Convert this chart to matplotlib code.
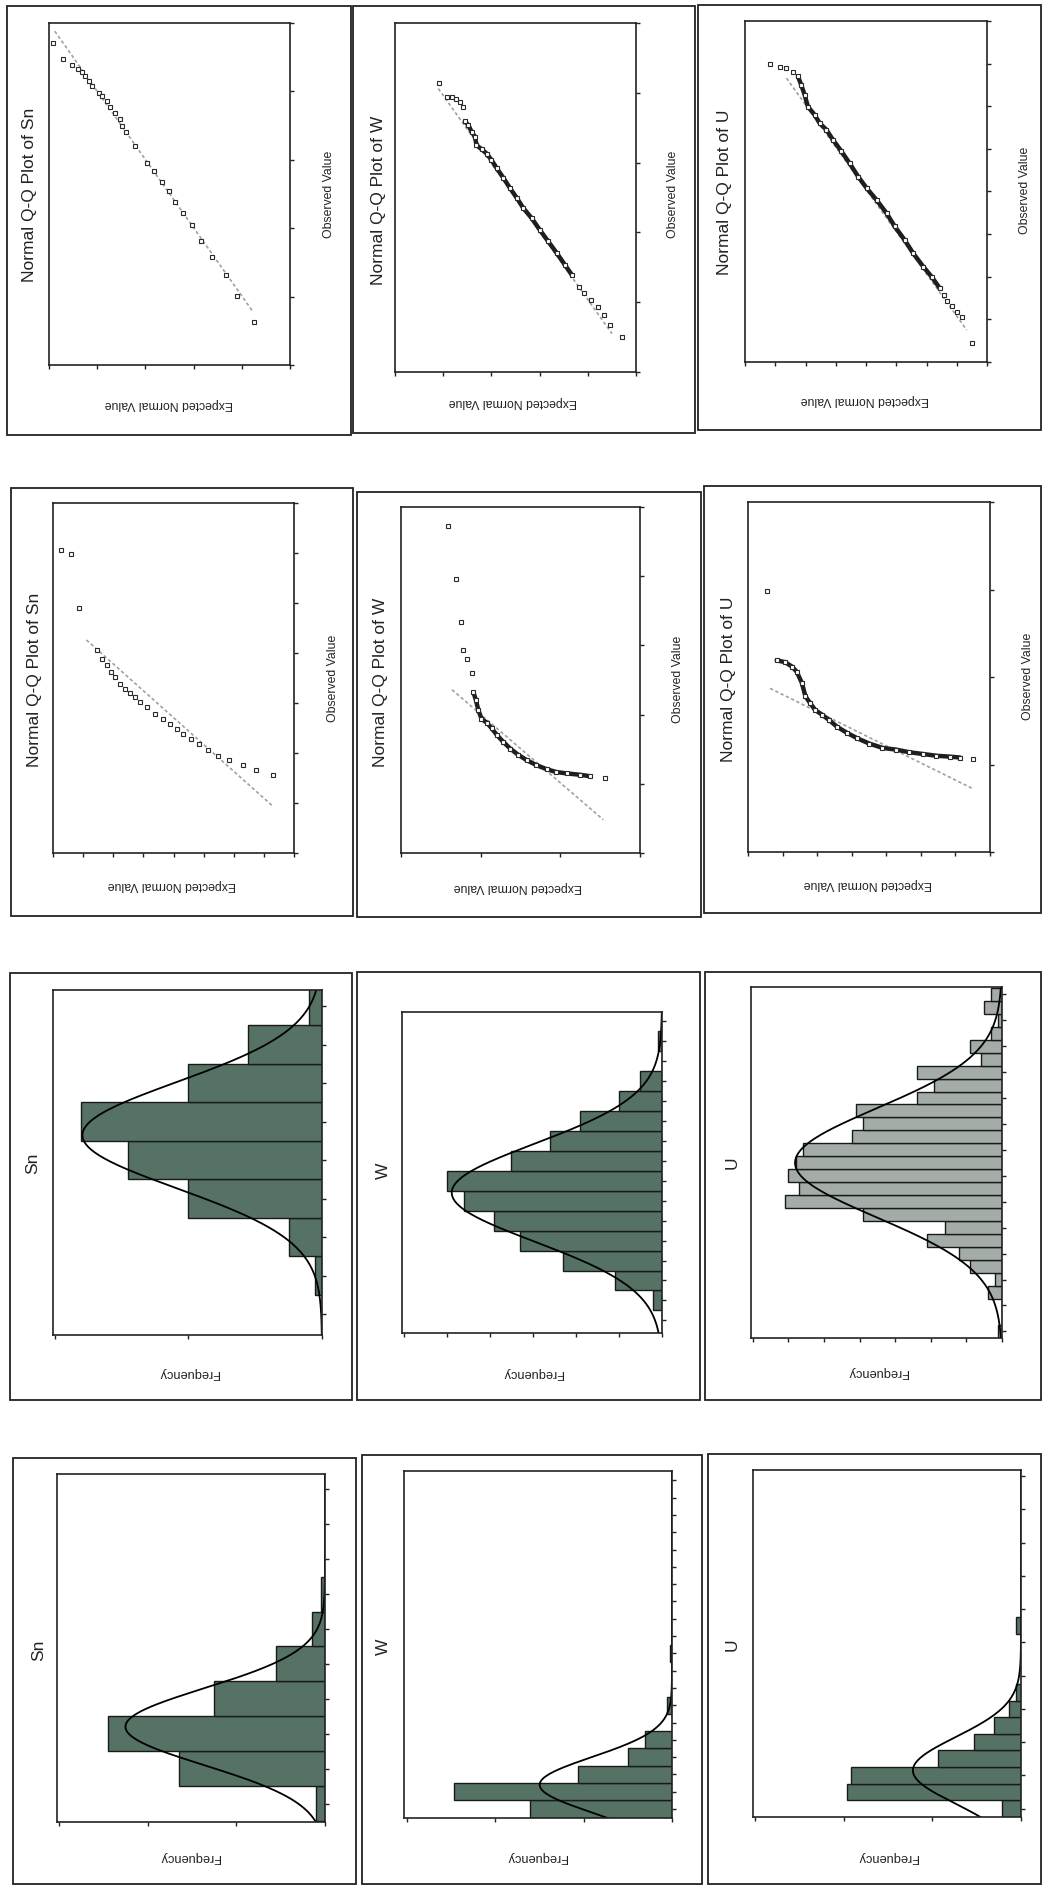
import matplotlib
matplotlib.use('Agg')
import matplotlib.pyplot as plt
from matplotlib.patches import Rectangle
import numpy as np

plt.rcParams['font.family'] = ['Liberation Sans', 'DejaVu Sans']

W_PX, H_PX = 1044, 1887

# ---------------- Q-Q data (tick units: expected from right edge, observed from bottom)
qq_sn_t_exp = [4.91, 4.70, 4.53, 4.39, 4.32, 4.25, 4.18, 4.11, 3.97, 3.90, 3.80, 3.73, 3.63, 3.53, 3.49,
               3.40, 3.22, 2.97, 2.82, 2.66, 2.51, 2.39, 2.23, 2.04, 1.84, 1.61, 1.33, 1.09, 0.75]
qq_sn_t_obs = [4.71, 4.48, 4.38, 4.33, 4.28, 4.22, 4.15, 4.08, 3.98, 3.93, 3.86, 3.77, 3.68, 3.60, 3.50,
               3.40, 3.20, 2.96, 2.83, 2.68, 2.54, 2.39, 2.22, 2.04, 1.82, 1.58, 1.32, 1.01, 0.63]
qq_sn_t_line = ([4.88, 0.77], [4.88, 0.78])

qq_w_t_exp = [4.08, 3.93, 3.82, 3.73, 3.65, 3.58, 3.55, 3.48, 3.41, 3.34, 3.31, 3.20, 3.10, 3.00, 2.89, 2.75,
              2.61, 2.47, 2.34, 2.16, 1.99, 1.82, 1.64, 1.47, 1.33, 1.19, 1.07, 0.94, 0.78, 0.66, 0.54, 0.30]
qq_w_t_obs = [4.14, 3.94, 3.94, 3.91, 3.87, 3.80, 3.59, 3.54, 3.44, 3.37, 3.25, 3.19, 3.13, 3.04, 2.92, 2.78,
              2.63, 2.49, 2.35, 2.20, 2.03, 1.87, 1.70, 1.53, 1.39, 1.22, 1.13, 1.03, 0.93, 0.82, 0.67, 0.50]
qq_w_t_line = ([4.10, 0.50], [4.06, 0.55])

qq_u_t_exp = [7.18, 6.85, 6.63, 6.41, 6.25, 6.14, 6.03, 5.92, 5.70, 5.53, 5.31, 5.09, 4.81, 4.54, 4.26,
              3.98, 3.65, 3.32, 3.05, 2.72, 2.44, 2.11, 1.83, 1.56, 1.42, 1.33, 1.17, 1.00, 0.84, 0.51]
qq_u_t_obs = [7.00, 6.93, 6.89, 6.81, 6.70, 6.50, 6.27, 5.99, 5.80, 5.60, 5.45, 5.21, 4.94, 4.66, 4.35,
              4.08, 3.80, 3.49, 3.18, 2.86, 2.55, 2.24, 2.00, 1.73, 1.57, 1.42, 1.31, 1.18, 1.06, 0.44]
qq_u_t_line = ([6.63, 0.67], [6.66, 0.75])

qq_sn_r_exp = [7.72, 7.39, 7.13, 6.55, 6.39, 6.22, 6.06, 5.95, 5.78, 5.61, 5.45, 5.28, 5.12, 4.89,
               4.62, 4.34, 4.12, 3.90, 3.68, 3.43, 3.15, 2.85, 2.51, 2.15, 1.68, 1.26, 0.69]
qq_sn_r_obs = [6.06, 5.99, 4.91, 4.06, 3.89, 3.76, 3.63, 3.53, 3.39, 3.29, 3.21, 3.13, 3.03, 2.93,
               2.79, 2.69, 2.59, 2.49, 2.39, 2.29, 2.18, 2.06, 1.94, 1.86, 1.76, 1.66, 1.56]
qq_sn_r_line = ([6.89, 0.69], [4.26, 0.93])

qq_w_r_exp = [2.41, 2.31, 2.25, 2.22, 2.17, 2.11, 2.09, 2.06, 2.03, 1.99, 1.92, 1.86, 1.80, 1.72,
              1.63, 1.53, 1.42, 1.30, 1.17, 1.05, 0.92, 0.75, 0.63, 0.44]
qq_w_r_obs = [4.72, 3.96, 3.34, 2.93, 2.81, 2.60, 2.32, 2.21, 2.07, 1.94, 1.88, 1.80, 1.71, 1.61,
              1.51, 1.42, 1.34, 1.27, 1.21, 1.17, 1.15, 1.13, 1.11, 1.09]
qq_w_r_line = ([2.36, 0.46], [2.36, 0.48])

qq_u_r_exp = [6.44, 6.17, 5.93, 5.73, 5.59, 5.44, 5.34, 5.20, 5.05, 4.86, 4.66, 4.42, 4.13, 3.84,
              3.50, 3.11, 2.72, 2.33, 1.94, 1.55, 1.17, 0.87, 0.49]
qq_u_r_obs = [2.98, 2.19, 2.17, 2.12, 2.06, 1.93, 1.78, 1.70, 1.62, 1.57, 1.51, 1.43, 1.36, 1.30,
              1.24, 1.19, 1.17, 1.14, 1.12, 1.10, 1.09, 1.08, 1.06]
qq_u_r_line = ([6.36, 0.53], [1.87, 0.73])

# ---------------- histogram data (bin centres in tick units, counts)
sn_t_bins = np.arange(1, 10)
sn_t_counts = [0, 1, 5, 20, 29, 36, 20, 11, 2]
w_t_bins = np.arange(1, 17)
w_t_counts = [0, 2, 11, 23, 33, 39, 46, 50, 35, 26, 19, 10, 5, 0, 1, 0]
u_t_bins = np.arange(1, 28)
u_t_counts = [1, 0, 0, 4, 2, 9, 12, 21, 16, 39, 61, 57, 60, 58, 56, 42, 39, 41, 24, 19, 24, 6, 9, 3, 1, 5, 3]
sn_r_bins = np.arange(1, 11)
sn_r_counts = [2, 33, 49, 25, 11, 3, 1, 0, 0, 0]
w_r_bins = np.arange(1, 21)
w_r_counts = [80, 123, 53, 25, 15, 0, 3, 0, 0, 1, 0, 0, 0, 0, 0, 0, 0, 0, 0, 0]
u_r_bins = np.arange(1.0, 11.01, 0.5)
u_r_counts = [22, 196, 192, 94, 53, 30, 13, 6, 0, 0, 0, 6, 0, 0, 0, 0, 0, 0, 0, 0, 0]

# fitted normal (mean, sd)
sn_t_fit = (5.65, 1.38)
w_t_fit = (7.4, 2.45)
u_t_fit = (14.0, 4.2)
sn_r_fit = (3.2, 1.1)
w_r_fit = (2.4, 1.6)
u_r_fit = (2.15, 1.0)

TITLE_FS = 12.5
LABEL_FS = 8.8
FREQ_FS = 9.2

fig = plt.figure(figsize=(W_PX / 100, H_PX / 100), dpi=100)


def px_axes(x0, y0, x1, y1):
    return fig.add_axes([x0 / W_PX, 1 - y1 / H_PX, (x1 - x0) / W_PX, (y1 - y0) / H_PX])


def frame(x0, y0, x1, y1):
    fig.add_artist(Rectangle((x0 / W_PX, 1 - y1 / H_PX), (x1 - x0) / W_PX, (y1 - y0) / H_PX,
                             transform=fig.transFigure, fill=False, lw=1.3, ec='#222222'))


def ftext(x, y, s, rot, size):
    fig.text(x / W_PX, 1 - y / H_PX, s, rotation=rot, ha='center', va='center',
             fontsize=size, color='#222222')


def style_axes(ax, xticks, yticks):
    ax.set_xticks(xticks)
    ax.set_yticks(yticks)
    ax.yaxis.tick_right()
    ax.tick_params(direction='out', length=3, width=1, color='#222222',
                   labelleft=False, labelright=False, labelbottom=False)
    for s in ax.spines.values():
        s.set_linewidth(1.2)
        s.set_color('#222222')


def qq_panel(box, nx, ny, exp, obs, line, dense=None):
    ax = px_axes(*box)
    ax.plot(line[0], line[1], color='#a0a0a0', lw=1.2, ls=(0, (2, 1.5)))
    if dense is not None:
        i0, i1 = dense
        ax.plot(exp[i0:i1 + 1], obs[i0:i1 + 1], color='#1e1e1e', lw=3.2, solid_capstyle='round',
                solid_joinstyle='round')
    ax.plot(exp, obs, ls='none', marker='s', ms=3.5, mfc='white', mec='#2a2a2a', mew=0.8)
    ax.set_xlim(nx, 0)
    ax.set_ylim(0, ny)
    style_axes(ax, np.arange(0, nx + 1), np.arange(0, ny + 1))
    return ax


def hist_panel(box, bins, counts, fit, bw, xmax, xstep, ylim, yticks, color):
    ax = px_axes(*box)
    ax.barh(bins, counts, height=bw, color=color, edgecolor='#1a1a1a', lw=1.0)
    mu, sd = fit
    n = sum(counts)
    yy = np.linspace(ylim[0], ylim[1], 300)
    xx = n * bw / (sd * np.sqrt(2 * np.pi)) * np.exp(-0.5 * ((yy - mu) / sd) ** 2)
    ax.plot(xx, yy, color='black', lw=1.3)
    ax.set_xlim(xmax, 0)
    ax.set_ylim(*ylim)
    style_axes(ax, np.arange(0, xmax + 0.01, xstep), yticks)
    return ax


# ---------------- row 1: Q-Q plots of transformed data
frame(7, 6, 351, 435)
qq_panel((49, 23, 290, 365), 5, 5, qq_sn_t_exp, qq_sn_t_obs, qq_sn_t_line)
ftext(30, 195, 'Normal Q-Q Plot of Sn', 90, TITLE_FS)
ftext(329, 194, 'Observed Value', 90, LABEL_FS)
ftext(169, 404, 'Expected Normal Value', 180, LABEL_FS)

frame(353, 6, 695, 433)
qq_panel((395, 23, 636, 372), 5, 5, qq_w_t_exp, qq_w_t_obs, qq_w_t_line, dense=(6, 24))
ftext(378, 200, 'Normal Q-Q Plot of W', 90, TITLE_FS)
ftext(673, 194, 'Observed Value', 90, LABEL_FS)
ftext(513, 402, 'Expected Normal Value', 180, LABEL_FS)

frame(698, 5, 1041, 430)
qq_panel((745, 21, 987, 362), 8, 8, qq_u_t_exp, qq_u_t_obs, qq_u_t_line, dense=(4, 23))
ftext(725, 192, 'Normal Q-Q Plot of U', 90, TITLE_FS)
ftext(1025, 190, 'Observed Value', 90, LABEL_FS)
ftext(865, 400, 'Expected Normal Value', 180, LABEL_FS)

# ---------------- row 2: Q-Q plots of raw data
frame(11, 488, 353, 916)
qq_panel((53, 503, 294, 853), 8, 7, qq_sn_r_exp, qq_sn_r_obs, qq_sn_r_line)
ftext(35, 680, 'Normal Q-Q Plot of Sn', 90, TITLE_FS)
ftext(333, 678, 'Observed Value', 90, LABEL_FS)
ftext(172, 885, 'Expected Normal Value', 180, LABEL_FS)

frame(357, 492, 701, 917)
qq_panel((401, 507, 640, 853), 3, 5, qq_w_r_exp, qq_w_r_obs, qq_w_r_line, dense=(6, 22))
ftext(380, 682, 'Normal Q-Q Plot of W', 90, TITLE_FS)
ftext(678, 679, 'Observed Value', 90, LABEL_FS)
ftext(518, 887, 'Expected Normal Value', 180, LABEL_FS)

frame(704, 486, 1041, 913)
qq_panel((748, 502, 990, 852), 7, 4, qq_u_r_exp, qq_u_r_obs, qq_u_r_line, dense=(1, 21))
ftext(728, 679, 'Normal Q-Q Plot of U', 90, TITLE_FS)
ftext(1028, 676, 'Observed Value', 90, LABEL_FS)
ftext(868, 884, 'Expected Normal Value', 180, LABEL_FS)

# ---------------- row 3: histograms of transformed data
dark = '#557264'
light = '#a3aca6'

frame(10, 973, 352, 1400)
hist_panel((53, 990, 322, 1335), sn_t_bins, sn_t_counts, sn_t_fit, 1.0, 40.25, 20,
           (0.46, 9.42), np.arange(1, 10), dark)
ftext(33, 1163, 'Sn', 90, TITLE_FS)
ftext(189, 1373, 'Frequency', 180, FREQ_FS)

frame(357, 972, 700, 1400)
hist_panel((402, 1012, 662, 1333), w_t_bins, w_t_counts, w_t_fit, 1.0, 60.4, 10,
           (0.37, 16.45), np.arange(1, 17), dark)
ftext(383, 1171, 'W', 90, TITLE_FS)
ftext(533, 1373, 'Frequency', 180, FREQ_FS)

frame(705, 972, 1041, 1400)
hist_panel((751, 987, 1002, 1338), u_t_bins, u_t_counts, u_t_fit, 1.0, 70.5, 10,
           (0.49, 27.56), np.arange(1, 28, 2), light)
ftext(732, 1163, 'U', 90, TITLE_FS)
ftext(878, 1372, 'Frequency', 180, FREQ_FS)

# ---------------- row 4: histograms of raw data
frame(13, 1458, 356, 1884)
hist_panel((57, 1474, 325, 1822), sn_r_bins, sn_r_counts, sn_r_fit, 1.0, 60.4, 20,
           (0.47, 10.44), np.arange(1, 11), dark)
ftext(39, 1650, 'Sn', 90, TITLE_FS)
ftext(190, 1857, 'Frequency', 180, FREQ_FS)

frame(362, 1455, 702, 1884)
hist_panel((404, 1471, 672, 1818), w_r_bins, w_r_counts, w_r_fit, 1.0, 151.5, 50,
           (0.48, 20.54), np.arange(1, 21), dark)
ftext(383, 1647, 'W', 90, TITLE_FS)
ftext(537, 1857, 'Frequency', 180, FREQ_FS)

frame(708, 1454, 1041, 1884)
hist_panel((753, 1470, 1021, 1817), u_r_bins, u_r_counts, u_r_fit, 0.5, 302.6, 100,
           (0.75, 11.18), np.arange(1, 12), dark)
ftext(732, 1645, 'U', 90, TITLE_FS)
ftext(888, 1857, 'Frequency', 180, FREQ_FS)

fig.savefig('out.png', dpi=100)
